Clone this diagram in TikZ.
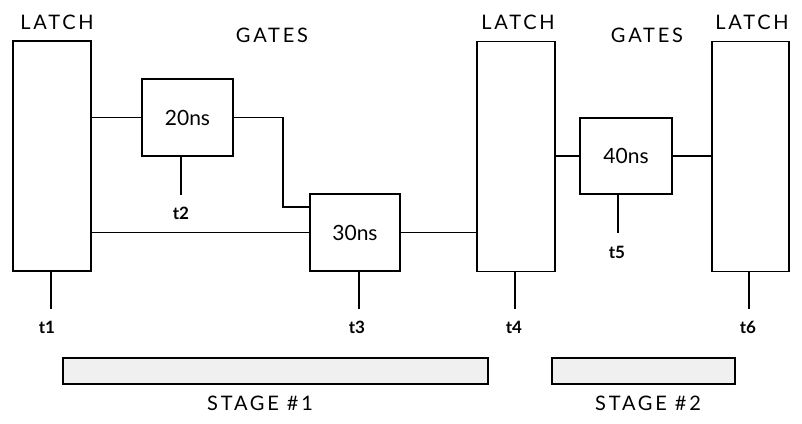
\documentclass[tikz,border=0pt]{standalone}
\usepackage{fontspec}
\setmainfont{Lato}
\newfontfamily\capsfont[LetterSpace=14]{Lato}
\begin{document}
\begin{tikzpicture}[x=1pt,y=-1pt,
  box/.style={draw, line width=1.4pt, inner sep=0pt},
  latch/.style={box, minimum width=78pt, minimum height=230pt},
  gate/.style={box, minimum width=91pt, minimum height=77pt, font=\fontsize{21}{24}\selectfont},
  wire/.style={line width=1.4pt},
  head/.style={font=\capsfont\fontsize{20}{22}\selectfont, inner sep=0pt},
  tlab/.style={font=\bfseries\fontsize{17}{20}\selectfont, inner sep=0pt},
  stagebar/.style={box, fill=gray!12, minimum height=26pt}
]
\useasboundingbox (0,0) rectangle (802,423);
% headers
\node[head] (h1) at (57,22) {LATCH};
\node[head] (h2) at (272,35) {GATES};
\node[head] (h3) at (518,22) {LATCH};
\node[head] (h4) at (647,35) {GATES};
\node[head] (h5) at (752,22) {LATCH};
% latches
\node[latch] (L1) at (52,156) {};
\node[latch] (L2) at (516,156.5) {};
\node[latch, minimum width=77pt] (L3) at (750.5,156.5) {};
% gates
\node[gate] (G20) at (187.5,117.5) {20ns};
\node[gate, minimum width=90pt] (G30) at (355,232.5) {30ns};
\node[gate, minimum width=92pt, minimum height=76pt] (G40) at (626,156) {40ns};
% wires
\coordinate (bend) at (283,207);
\draw[wire] (G20.west) -- (G20.west -| L1.east);
\draw[wire] (G20.east) -| (bend) -- (bend -| G30.west);
\draw[wire] (G30.west) -- (G30.west -| L1.east);
\draw[wire] (G30.east) -- (G30.east -| L2.west);
\draw[wire] (G40.west) -- (G40.west -| L2.east);
\draw[wire] (G40.east) -- (G40.east -| L3.west);
% time labels
\node[tlab] (t1) at (47,327) {t1};
\node[tlab] (t2) at (181,213) {t2};
\node[tlab] (t3) at (357,327) {t3};
\node[tlab] (t4) at (514,327) {t4};
\node[tlab] (t5) at (617,252) {t5};
\node[tlab] (t6) at (748,327) {t6};
\coordinate (e1) at (51,309);
\coordinate (e2) at (181,195);
\coordinate (e3) at (359,309);
\coordinate (e4) at (515,309);
\coordinate (e5) at (618,233);
\coordinate (e6) at (749,309);
\draw[wire] (e1 |- L1.south) -- (e1);
\draw[wire] (e2 |- G20.south) -- (e2);
\draw[wire] (e3 |- G30.south) -- (e3);
\draw[wire] (e4 |- L2.south) -- (e4);
\draw[wire] (e5 |- G40.south) -- (e5);
\draw[wire] (e6 |- L3.south) -- (e6);
% stages
\node[stagebar, minimum width=425pt] (S1) at (275.5,371) {};
\node[stagebar, minimum width=183pt] (S2) at (643.5,371) {};
\node[head] (s1l) at (260,403) {STAGE \#1};
\node[head] (s2l) at (648,403) {STAGE \#2};
\end{tikzpicture}
\end{document}
